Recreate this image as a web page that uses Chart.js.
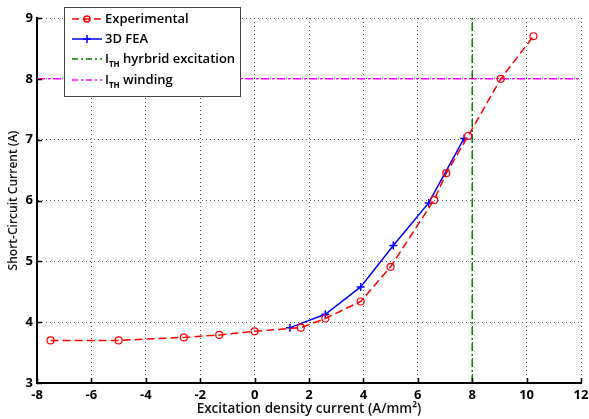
<!DOCTYPE html>
<html>
<head>
<meta charset="utf-8">
<script src="https://cdn.jsdelivr.net/npm/chart.js@4/dist/chart.umd.min.js"></script>
<style>
  html, body { margin: 0; padding: 0; background: #fff; }
  #wrap { width: 589px; height: 419px; }
</style>
</head>
<body>
<div id="wrap"><canvas id="sc-chart" width="589" height="419"></canvas></div>
<script>
// Experimental measurements
const expX = [-7.5, -5.0, -2.6, -1.3, 0, 1.7, 2.6, 3.9, 5.0, 6.6, 7.05, 7.85, 9.05, 10.25];
const expY = [3.70, 3.70, 3.75, 3.79, 3.85, 3.91, 4.06, 4.34, 4.91, 6.01, 6.45, 7.06, 8.00, 8.70];

// 3D FEA results
const feaX = [1.3, 2.6, 3.9, 5.1, 6.4, 7.7];
const feaY = [3.91, 4.13, 4.58, 5.26, 5.96, 7.02];

// thresholds
const ithHybrid = 8;   // vertical line, x
const ithWinding = 8;  // horizontal line, y

const xTicks = [-8, -6, -4, -2, 0, 2, 4, 6, 8, 10, 12];
const yTicks = [3, 4, 5, 6, 7, 8, 9];

const legendLabels = [
  { main: 'Experimental', sub: '', rest: '' },
  { main: '3D FEA', sub: '', rest: '' },
  { main: 'I', sub: 'TH', rest: ' hyrbrid excitation' },
  { main: 'I', sub: 'TH', rest: ' winding' },
];

const toPoints = (xs, ys) => xs.map((x, i) => ({ x: x, y: ys[i] }));

const FONT = "'Open Sans', 'DejaVu Sans', sans-serif";

// inward tick marks + custom legend box
const extrasPlugin = {
  id: 'extras',
  afterDatasetsDraw(chart) {
    const { ctx, chartArea, scales } = chart;
    ctx.save();
    ctx.strokeStyle = '#000';
    ctx.lineWidth = 1.5;
    ctx.beginPath();
    xTicks.forEach(v => {
      const px = Math.round(scales.x.getPixelForValue(v)) + 0.5;
      ctx.moveTo(px, chartArea.bottom);
      ctx.lineTo(px, chartArea.bottom - 5);
    });
    yTicks.forEach(v => {
      const py = Math.round(scales.y.getPixelForValue(v)) + 0.5;
      ctx.moveTo(chartArea.left, py);
      ctx.lineTo(chartArea.left + 5, py);
    });
    ctx.stroke();
    ctx.restore();
  },
  afterDraw(chart) {
    const { ctx } = chart;
    const bx = 64.5, by = 7.5, bw = 176, bh = 89;
    ctx.save();
    ctx.fillStyle = '#fff';
    ctx.fillRect(bx, by, bw, bh);
    ctx.strokeStyle = '#444';
    ctx.lineWidth = 1;
    ctx.strokeRect(bx, by, bw, bh);

    const rows = [19, 39, 59, 80];
    const styles = [
      { color: '#ff0000', dash: [7, 4], marker: 'circle' },
      { color: '#0000ff', dash: [], marker: 'cross' },
      { color: '#008000', dash: [6, 3, 2, 3], marker: null },
      { color: '#ff00ff', dash: [6, 3, 2, 3], marker: null },
    ];
    rows.forEach((y, i) => {
      const s = styles[i];
      ctx.strokeStyle = s.color;
      ctx.lineWidth = 1.5;
      ctx.setLineDash(s.dash);
      ctx.beginPath();
      ctx.moveTo(72, y);
      ctx.lineTo(102, y);
      ctx.stroke();
      ctx.setLineDash([]);
      if (s.marker === 'circle') {
        ctx.beginPath();
        ctx.arc(87, y, 3, 0, Math.PI * 2);
        ctx.stroke();
      } else if (s.marker === 'cross') {
        ctx.beginPath();
        ctx.moveTo(83, y); ctx.lineTo(91, y);
        ctx.moveTo(87, y - 4); ctx.lineTo(87, y + 4);
        ctx.stroke();
      }
      const lab = legendLabels[i];
      ctx.fillStyle = '#000';
      ctx.textBaseline = 'middle';
      ctx.textAlign = 'left';
      ctx.font = '600 13px ' + FONT;
      let tx = 105;
      ctx.fillText(lab.main, tx, y);
      tx += ctx.measureText(lab.main).width;
      if (lab.sub) {
        ctx.font = 'bold 8px ' + FONT;
        ctx.fillText(lab.sub, tx, y + 6);
        tx += ctx.measureText(lab.sub).width;
        ctx.font = '600 13px ' + FONT;
        ctx.fillText(lab.rest, tx, y);
      }
    });
    ctx.restore();
  },
};

const ctx = document.getElementById('sc-chart').getContext('2d');
new Chart(ctx, {
  type: 'scatter',
  data: {
    datasets: [
      {
        label: 'I_TH winding',
        data: [{ x: -8, y: ithWinding }, { x: 12, y: ithWinding }],
        showLine: true,
        borderColor: '#ff00ff',
        borderWidth: 1.5,
        borderDash: [8, 3, 2, 3],
        pointRadius: 0,
        order: 4,
      },
      {
        label: 'I_TH hyrbrid excitation',
        data: [{ x: ithHybrid, y: 3 }, { x: ithHybrid, y: 9 }],
        showLine: true,
        borderColor: '#008000',
        borderWidth: 1.5,
        borderDash: [8, 3, 2, 3],
        pointRadius: 0,
        order: 3,
      },
      {
        label: '3D FEA',
        data: toPoints(feaX, feaY),
        showLine: true,
        borderColor: '#0000ff',
        borderWidth: 1.5,
        pointStyle: 'cross',
        pointRadius: 4,
        pointBorderColor: '#0000ff',
        pointBorderWidth: 1.5,
        order: 2,
      },
      {
        label: 'Experimental',
        data: toPoints(expX, expY),
        showLine: true,
        borderColor: '#ff0000',
        borderWidth: 1.5,
        borderDash: [8, 4],
        pointStyle: 'circle',
        pointRadius: 3.5,
        pointBackgroundColor: 'rgba(0,0,0,0)',
        pointBorderColor: '#ff0000',
        pointBorderWidth: 1.2,
        order: 1,
      },
    ],
  },
  options: {
    animation: false,
    responsive: false,
    layout: { padding: { top: 18, right: 0, left: 6, bottom: 0 } },
    plugins: {
      legend: { display: false },
      tooltip: { enabled: false },
    },
    scales: {
      x: {
        type: 'linear',
        min: -8,
        max: 12,
        afterBuildTicks: (scale) => { scale.ticks = xTicks.map(v => ({ value: v })); },
        afterFit: (scale) => {
          scale.height = 36;
          scale.paddingRight = 8;
        },
        ticks: {
          color: '#000',
          font: { family: FONT, size: 13, weight: 'bold' },
          padding: 4,
          maxRotation: 0,
        },
        grid: { color: '#5a5a5a', lineWidth: 1, drawTicks: false },
        border: { display: true, color: '#000', width: 2, dash: [1, 3] },
        title: {
          display: true,
          text: 'Excitation density current (A/mm\u00b2)',
          color: '#111',
          font: { family: FONT, size: 13.5, weight: '600' },
          padding: { top: 0, bottom: 2 },
        },
      },
      y: {
        type: 'linear',
        min: 3,
        max: 9,
        afterBuildTicks: (scale) => { scale.ticks = yTicks.map(v => ({ value: v })); },
        afterFit: (scale) => { scale.width = 31; },
        ticks: {
          color: '#000',
          font: { family: FONT, size: 13, weight: 'bold' },
          padding: 4,
        },
        grid: { color: '#5a5a5a', lineWidth: 1, drawTicks: false },
        border: { display: true, color: '#000', width: 2, dash: [1, 3] },
        title: {
          display: true,
          text: 'Short-Circuit Current (A)',
          color: '#111',
          font: { family: FONT, size: 12, weight: '600' },
          padding: { top: 0, bottom: 0 },
        },
      },
    },
  },
  plugins: [extrasPlugin],
});
</script>
</body>
</html>
